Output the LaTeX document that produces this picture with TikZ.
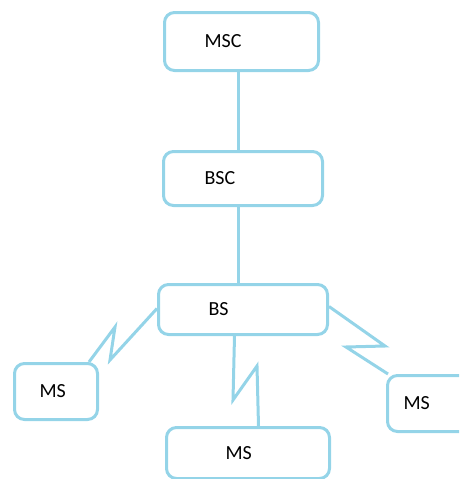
\documentclass[tikz,border=0pt]{standalone}
\usepackage{fontspec}
\setmainfont{Carlito}
\definecolor{linkblue}{RGB}{148,212,232}
\tikzset{
  unit/.style={draw=linkblue, line width=3pt, rounded corners=10pt,
    align=left, anchor=north west, inner ysep=0pt,
    font=\fontsize{20}{24}\selectfont},
  link/.style={draw=linkblue, line width=3pt}
}
\begin{document}
\begin{tikzpicture}[x=1pt, y=-1pt]
\clip (0,0) rectangle (459,479);
\node[unit, minimum height=58pt, text width=74pt, inner xsep=40pt] (msc) at (163,11) {MSC};
\node[unit, minimum height=54pt, text width=77pt, inner xsep=41pt] (bsc) at (162,150) {BSC};
\node[unit, minimum height=50pt, text width=69pt, inner xsep=50pt] (bs) at (157,283) {BS};

\node[unit, minimum height=56pt, text width=33pt, inner xsep=25pt] (msleft) at (13,362) {MS};
\node[unit, minimum height=51pt, text width=45pt, inner xsep=59pt] (msbottom) at (165,426) {MS};
\node[unit, minimum height=56pt, text width=58pt, inner xsep=16pt] (msright) at (386,374) {MS};

% wired part
\draw[link] ([xshift=-3pt]msc.south) -- ([xshift=-3pt]msc.south |- bsc.north);
\draw[link] ([xshift=-4.5pt]bsc.south) -- ([xshift=-4.5pt]bsc.south |- bs.north);

% radio links
\draw[link] ([yshift=1pt]bs.west) -- (110,360) -- (115,327) -- ([xshift=-10pt]msleft.north east);
\draw[link] ([xshift=-8.5pt]bs.south) -- (233,400) -- (257,366) -- ([xshift=10.5pt]msbottom.north);
\draw[link] ([yshift=3pt]bs.east) -- (385,346) -- (346,347) -- ([xshift=2pt]msright.north west);
\end{tikzpicture}
\end{document}
